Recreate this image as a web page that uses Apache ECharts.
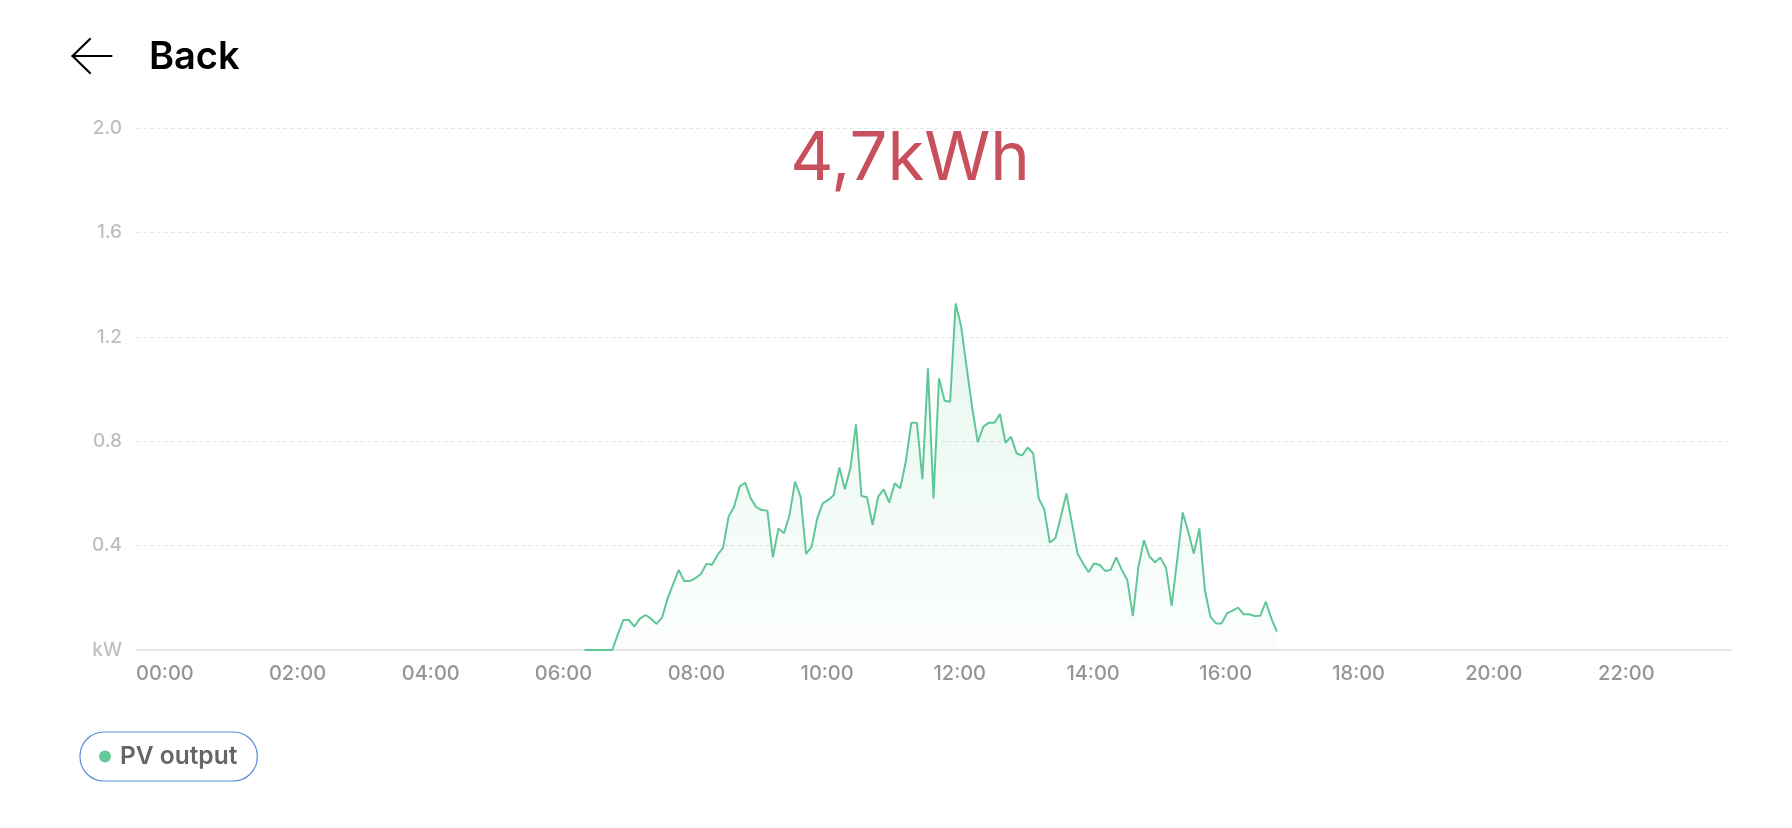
<!DOCTYPE html>
<html>
<head>
<meta charset="utf-8">
<style>
  html, body { margin: 0; padding: 0; background: #ffffff; }
  #chart { width: 1792px; height: 828px; }
</style>
<script src="https://cdn.jsdelivr.net/npm/echarts@6/dist/echarts.min.js"></script>
</head>
<body>
<div id="chart"></div>
<script>
// ---- data ----
const stepMinutes = 5;                       // sampling step of the series
const pvStart = '06:45';                     // first sample of the PV series
const pvOutput = [                           // kW, one value every 5 minutes from pvStart
  0, 0, 0, 0, 0, 0, 0.06, 0.115, 0.115, 0.09,
  0.12, 0.134, 0.12, 0.10, 0.125, 0.198, 0.253, 0.307, 0.264, 0.264,
  0.275, 0.291, 0.33, 0.327, 0.364, 0.392, 0.511, 0.549, 0.626, 0.641,
  0.581, 0.547, 0.536, 0.534, 0.355, 0.466, 0.447, 0.517, 0.645, 0.587,
  0.368, 0.396, 0.504, 0.562, 0.575, 0.594, 0.699, 0.616, 0.697, 0.865,
  0.59, 0.585, 0.479, 0.587, 0.616, 0.565, 0.639, 0.62, 0.722, 0.871,
  0.871, 0.654, 1.079, 0.581, 1.041, 0.955, 0.951, 1.328, 1.239, 1.08,
  0.927, 0.796, 0.856, 0.871, 0.871, 0.904, 0.794, 0.817, 0.754, 0.745,
  0.776, 0.754, 0.581, 0.539, 0.412, 0.428, 0.511, 0.600, 0.485, 0.370,
  0.332, 0.298, 0.332, 0.326, 0.303, 0.307, 0.355, 0.307, 0.268, 0.130,
  0.319, 0.421, 0.358, 0.336, 0.354, 0.313, 0.169, 0.345, 0.527, 0.453,
  0.370, 0.466, 0.230, 0.128, 0.102, 0.102, 0.140, 0.151, 0.162, 0.137,
  0.137, 0.130, 0.131, 0.185, 0.121, 0.070
];
const yTicks = [0, 0.4, 0.8, 1.2, 1.6, 2.0];
const yUnitLabel = 'kW';
const totalLabel = '4,7kWh';
const seriesName = 'PV output';
const backLabel = 'Back';

// categories: 00:00 ... 24:00 in 5-minute steps
const pad = n => String(n).padStart(2, '0');
const times = [];
for (let m = 0; m <= 24 * 60; m += stepMinutes) {
  times.push(pad(Math.floor(m / 60)) + ':' + pad(m % 60));
}
const startIdx = times.indexOf(pvStart);
const seriesData = times.map((t, i) => {
  const k = i - startIdx;
  return (k >= 0 && k < pvOutput.length) ? pvOutput[k] : null;
});

// ---- chart ----
const FONT = 'Inter, "Liberation Sans", sans-serif';
const chart = echarts.init(document.getElementById('chart'), null, { renderer: 'canvas' });
chart.setOption({
  backgroundColor: '#ffffff',
  animation: false,
  title: {
    text: totalLabel,
    left: 905,
    top: 120,
    textAlign: 'center',
    textStyle: { color: '#c8505d', fontSize: 67, fontWeight: 'normal', fontFamily: FONT, lineHeight: 70 }
  },
  graphic: [
    { type: 'polyline', shape: { points: [[90, 39], [72.5, 56], [90, 73]] },
      style: { stroke: '#000', lineWidth: 2.2, fill: null, lineCap: 'round', lineJoin: 'round' } },
    { type: 'line', shape: { x1: 72.5, y1: 56, x2: 111.5, y2: 56 },
      style: { stroke: '#000', lineWidth: 2.2, lineCap: 'round' } },
    { type: 'text', x: 149, y: 58,
      style: { text: backLabel, fill: '#000', font: '600 38px ' + FONT, textVerticalAlign: 'middle', textAlign: 'left' } }
  ],
  legend: {
    data: [seriesName],
    left: 80,
    top: 732,
    icon: 'circle',
    itemWidth: 20,
    itemHeight: 12,
    padding: [12, 20, 12, 19],
    borderColor: '#5b8bd9',
    borderWidth: 1.2,
    borderRadius: 24,
    selectedMode: false,
    textStyle: { color: '#666', fontSize: 24.5, fontWeight: 600, fontFamily: FONT, lineHeight: 24 }
  },
  grid: { left: 136, right: 61, top: 128, bottom: 178, containLabel: false },
  xAxis: {
    type: 'category',
    data: times,
    boundaryGap: false,
    axisLine: { show: true, lineStyle: { color: '#e6e6e6', width: 2 } },
    axisTick: { show: false },
    splitLine: { show: false },
    axisLabel: {
      interval: (i) => i % 24 === 0 && i < times.length - 1,
      align: 'left',
      margin: 14,
      color: '#959595',
      fontSize: 20,
      fontWeight: 500,
      fontFamily: FONT
    }
  },
  yAxis: {
    type: 'value',
    min: yTicks[0],
    max: yTicks[yTicks.length - 1],
    interval: yTicks[1] - yTicks[0],
    axisLine: { show: false },
    axisTick: { show: false },
    splitLine: { show: true, lineStyle: { color: '#e6e6e6', type: [4, 3], width: 1 } },
    axisLabel: {
      margin: 14,
      color: '#bebebe',
      fontSize: 19,
      fontWeight: 500,
      fontFamily: FONT,
      formatter: v => (v === 0 ? yUnitLabel : v.toFixed(1))
    }
  },
  series: [{
    name: seriesName,
    type: 'line',
    data: seriesData,
    showSymbol: false,
    symbol: 'none',
    connectNulls: false,
    itemStyle: { color: '#62c99a' },
    lineStyle: { color: '#5fc797', width: 2 },
    areaStyle: {
      color: new echarts.graphic.LinearGradient(0, 0, 0, 1, [
        { offset: 0, color: 'rgba(95,199,151,0.22)' },
        { offset: 1, color: 'rgba(95,199,151,0.03)' }
      ])
    }
  }]
});
</script>
</body>
</html>
